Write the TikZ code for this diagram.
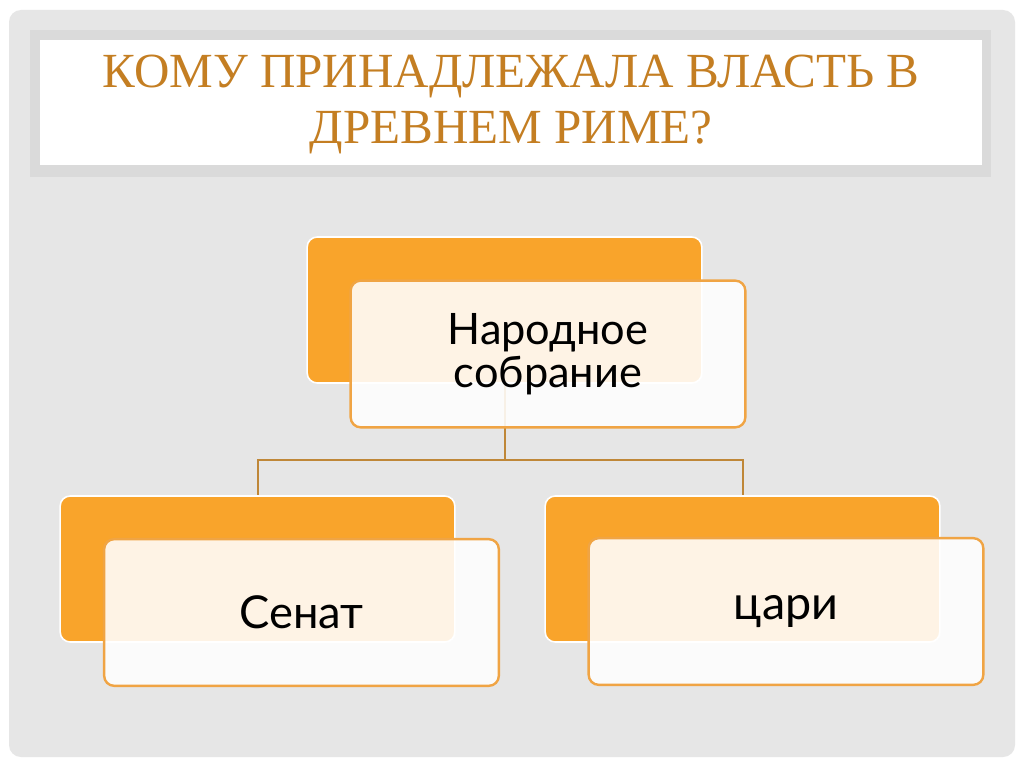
\documentclass[tikz,border=0pt]{standalone}
\usepackage{fontspec}
\setmainfont{Liberation Serif}
\newfontfamily\boxfont{Lato}
\usepackage{tikz}
\definecolor{slidegray}{HTML}{E6E6E6}
\definecolor{framegray}{HTML}{DADADA}
\definecolor{titleorange}{HTML}{C47E22}
\definecolor{backorange}{HTML}{F9A42B}
\definecolor{lineorange}{HTML}{F0A444}
\definecolor{linkbrown}{HTML}{BF8738}

\tikzset{
  backbox/.style={fill=backorange,draw=white,line width=1.2pt,rounded corners=7.5pt,
    minimum width=296pt,minimum height=109.5pt,inner sep=0pt},
  frontbox/.style={fill=white,fill opacity=0.88,text opacity=1,draw=lineorange,line width=1.8pt,
    rounded corners=7.5pt,minimum width=296pt,minimum height=110pt,inner sep=0pt,
    align=center,font=\boxfont},
  link/.style={linkbrown,line width=1.5pt}
}

\begin{document}
\begin{tikzpicture}[x=0.75pt,y=-0.75pt]
          \useasboundingbox (0,0) rectangle (1024,767);
          \fill[white] (0,0) rectangle (1024,767);
          \fill[slidegray,rounded corners=9pt] (9,10) rectangle (1015,757);
          % title frame
          \fill[framegray] (30,30) rectangle (991,177);
          \fill[white] (40,40) rectangle (982,165);
          \node[titleorange,align=center,font=\fontsize{36.8}{42}\selectfont] (title) at (511,104)
            {КОМУ ПРИНАДЛЕЖАЛА ВЛАСТЬ В\\ДРЕВНЕМ РИМЕ?};
          % back boxes
          \node[backbox] (NB) at (504.5,310) {};
          \node[backbox] (SB) at (257.5,569) {};
          \node[backbox] (CB) at (742.5,569) {};
          % connectors
          \coordinate (J) at (504.5,460);
          \draw[link] (NB.south) -- (J) -| (SB.north);
          \draw[link] (J) -| (CB.north);
          % front boxes
          \node[frontbox,font=\boxfont\fontsize{32.5}{32.5}\selectfont] (N) at (548,354) {Народное\\собрание};
          \node[frontbox,font=\boxfont\fontsize{34}{36}\selectfont] (S) at (301.5,612.5) {Сенат};
          \node[frontbox,font=\boxfont\fontsize{35}{36}\selectfont] (C) at (786,611.5) {цари};
        \end{tikzpicture}
\end{document}
